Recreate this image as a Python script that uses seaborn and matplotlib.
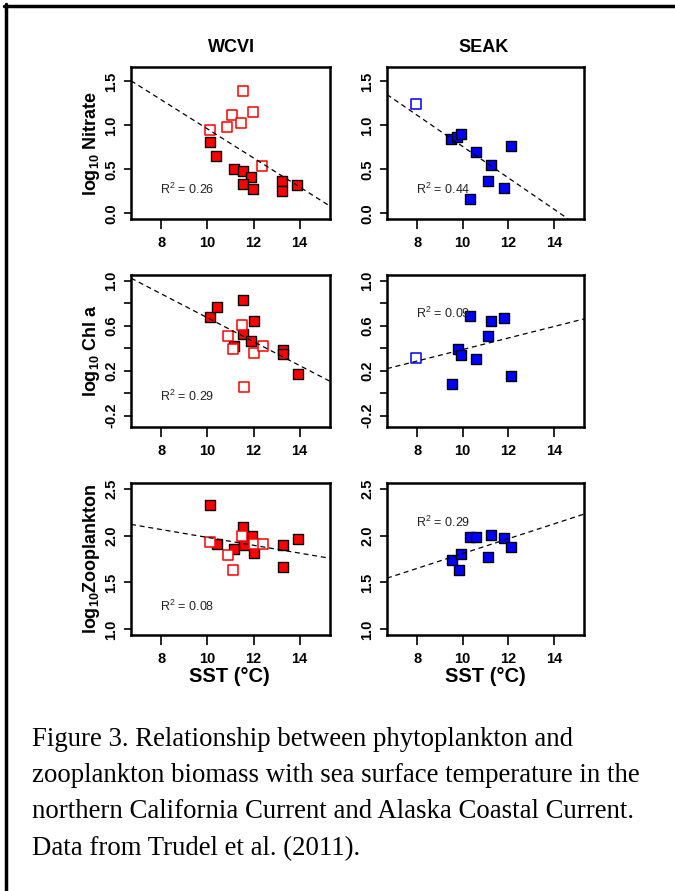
import pandas as pd
import numpy as np
import seaborn as sns
import matplotlib.pyplot as plt
from matplotlib.lines import Line2D

# WCVI - nitrate
wcvi_nit_sst = [10.1, 10.36, 11.14, 11.56, 11.87, 11.56, 11.96, 13.25, 13.25, 13.88]
wcvi_nit = [0.81, 0.655, 0.50, 0.485, 0.41, 0.33, 0.28, 0.37, 0.25, 0.32]
wcvi_nit_sst_open = [11.55, 11.96, 11.08, 11.47, 10.86, 10.1, 12.38]
wcvi_nit_open = [1.39, 1.155, 1.12, 1.03, 0.98, 0.95, 0.54]

# SEAK - nitrate
seak_nit_sst = [9.48, 9.75, 9.94, 10.6, 11.22, 12.13, 11.13, 11.83, 10.32]
seak_nit = [0.845, 0.865, 0.905, 0.70, 0.55, 0.765, 0.37, 0.285, 0.163]
seak_nit_sst_open = [7.93]
seak_nit_open = [1.24]

# WCVI - chl a
wcvi_chl_sst = [10.11, 10.4, 11.56, 12.0, 11.53, 11.89, 11.15, 13.28, 13.28, 13.92]
wcvi_chl = [0.673, 0.762, 0.83, 0.64, 0.528, 0.46, 0.415, 0.38, 0.35, 0.17]
wcvi_chl_sst_open = [11.5, 10.88, 11.1, 12.0, 12.41, 11.59]
wcvi_chl_open = [0.605, 0.504, 0.394, 0.36, 0.415, 0.053]

# SEAK - chl a
seak_chl_sst = [9.51, 9.81, 9.94, 10.6, 10.32, 11.22, 11.12, 11.81, 12.13]
seak_chl = [0.082, 0.397, 0.338, 0.30, 0.682, 0.64, 0.504, 0.664, 0.15]
seak_chl_sst_open = [7.93]
seak_chl_open = [0.311]

# WCVI - zooplankton
wcvi_zoo_sst = [10.11, 10.4, 11.17, 11.56, 11.92, 11.59, 12.0, 13.28, 13.28, 13.92]
wcvi_zoo = [2.326, 1.913, 1.853, 2.095, 1.995, 1.896, 1.817, 1.896, 1.661, 1.96]
wcvi_zoo_sst_open = [10.11, 10.88, 11.1, 11.5, 12.0, 12.4]
wcvi_zoo_open = [1.93, 1.79, 1.63, 1.995, 1.913, 1.913]

# SEAK - zooplankton
seak_zoo_sst = [9.51, 9.84, 9.94, 10.32, 10.6, 11.22, 11.13, 11.81, 12.13]
seak_zoo = [1.739, 1.629, 1.80, 1.985, 1.988, 2.006, 1.768, 1.977, 1.878]

# fitted lines (intercept, slope) and r2
fit_intercept = [2.61, 2.54, 1.73, -0.123, 2.398, 1.018]
fit_slope = [-0.165, -0.178, -0.106, 0.0511, -0.0418, 0.079]
r2_values = ["0.26", "0.44", "0.29", "0.09", "0.08", "0.29"]

regions = ["WCVI", "SEAK"]
ylabels = ["log$_{10}$ Nitrate", "log$_{10}$ Chl a", "log$_{10}$Zooplankton"]
x_ticks = [8, 10, 12, 14]

sns.set_style("ticks", {"axes.edgecolor": "black", "text.color": "black",
                        "xtick.color": "black", "ytick.color": "black",
                        "axes.labelcolor": "black"})
plt.rcParams["font.family"] = ["Liberation Sans", "DejaVu Sans"]
plt.rcParams["mathtext.default"] = "regular"

W, H = 675, 891
fig = plt.figure(figsize=(W / 100, H / 100), dpi=100)


def fx(px):
    return px / W


def fy(py):
    return 1 - py / H


col_x = [(131, 330), (387, 584)]
row_y = [(67, 219), (275, 427), (483, 635)]

panels = [
    (wcvi_nit_sst, wcvi_nit, wcvi_nit_sst_open, wcvi_nit_open, "red"),
    (seak_nit_sst, seak_nit, seak_nit_sst_open, seak_nit_open, "blue"),
    (wcvi_chl_sst, wcvi_chl, wcvi_chl_sst_open, wcvi_chl_open, "red"),
    (seak_chl_sst, seak_chl, seak_chl_sst_open, seak_chl_open, "blue"),
    (wcvi_zoo_sst, wcvi_zoo, wcvi_zoo_sst_open, wcvi_zoo_open, "red"),
    (seak_zoo_sst, seak_zoo, [], [], "blue"),
]

ylims = [(-0.064, 1.664), (-0.30, 1.05), (0.94, 2.56)]
yticks = [[0, 0.5, 1.0, 1.5], [-0.2, 0, 0.2, 0.4, 0.6, 0.8, 1.0], [1.0, 1.5, 2.0, 2.5]]
yticklabels = [["0.0", "0.5", "1.0", "1.5"],
               ["-0.2", "", "0.2", "", "0.6", "", "1.0"],
               ["1.0", "1.5", "2.0", "2.5"]]
r2_pos = [(7.93, 0.27), (7.96, 0.27), (7.93, -0.03), (7.96, 0.71), (7.93, 1.25), (7.96, 2.14)]

for i, (xs, ys, xo, yo, col) in enumerate(panels):
    r, c = divmod(i, 2)
    x0, x1 = col_x[c]
    y0, y1 = row_y[r]
    ax = fig.add_axes([fx(x0), fy(y1), fx(x1) - fx(x0), (y1 - y0) / H])

    df = pd.DataFrame({"sst": xs, "val": ys})
    sns.scatterplot(data=df, x="sst", y="val", marker="s", s=60, color=col,
                    edgecolor="black", linewidth=1.0, ax=ax, zorder=3)
    if len(xo):
        dfo = pd.DataFrame({"sst": xo, "val": yo})
        sns.scatterplot(data=dfo, x="sst", y="val", marker="s", s=60, facecolor="white",
                        edgecolor=col, linewidth=1.1, ax=ax, zorder=3)
    ax.axline((0, fit_intercept[i]), slope=fit_slope[i], color="black",
              lw=0.9, ls=(0, (4, 3)), zorder=4)
    ax.text(r2_pos[i][0], r2_pos[i][1], "R$^2$ = " + r2_values[i], fontsize=9,
            ha="left", va="center", color="#222222")

    ax.set_xlim(6.68, 15.32)
    ax.set_ylim(*ylims[r])
    ax.set_xticks(x_ticks)
    ax.set_xticklabels([str(t) for t in x_ticks], fontsize=10.5, fontweight="bold")
    ax.set_yticks(yticks[r])
    ax.set_yticklabels(yticklabels[r], fontsize=10.5, fontweight="bold",
                       rotation=90, va="center")
    ax.tick_params(axis="x", length=7, width=1.2, pad=5)
    ax.tick_params(axis="y", length=5, width=1.2, pad=4)
    ax.set_xlabel("")
    ax.set_ylabel("")
    for sp in ax.spines.values():
        sp.set_visible(True)
        sp.set_linewidth(1.8)
        sp.set_color("black")

    if c == 0:
        fig.text(fx(92), fy((y0 + y1) / 2), ylabels[r], rotation=90, ha="center",
                 va="center", fontsize=13, fontweight="bold")

# column titles and x-axis labels
fig.text(fx(231), fy(47), regions[0], ha="center", va="center", fontsize=13, fontweight="bold")
fig.text(fx(484), fy(47), regions[1], ha="center", va="center", fontsize=13, fontweight="bold")
fig.text(fx(229), fy(676), "SST (°C)", ha="center", va="center", fontsize=14.5, fontweight="bold")
fig.text(fx(485), fy(676), "SST (°C)", ha="center", va="center", fontsize=14.5, fontweight="bold")

# caption
caption = [
    "Figure 3. Relationship between phytoplankton and",
    "zooplankton biomass with sea surface temperature in the",
    "northern California Current and Alaska Coastal Current.",
    "Data from Trudel et al. (2011).",
]
for k, line in enumerate(caption):
    fig.text(fx(32), fy(739 + 36.5 * k), line, ha="left", va="center",
             fontsize=19.3, family="Liberation Serif")

# page frame
fig.add_artist(Line2D([fx(4), 1], [fy(6), fy(6)], color="black", lw=2.5))
fig.add_artist(Line2D([fx(6), fx(6)], [fy(4), 0], color="black", lw=2.5))

fig.savefig("out.png", dpi=100)
